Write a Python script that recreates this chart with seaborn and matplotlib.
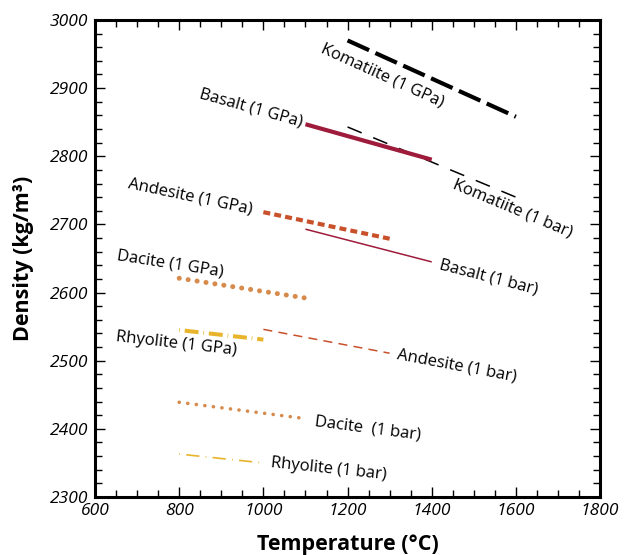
import numpy as np
import pandas as pd
import matplotlib
matplotlib.use("Agg")
import matplotlib.pyplot as plt
import seaborn as sns

# --- data (end points of each straight line) ---
names = ["Komatiite (1 GPa)", "Komatiite (1 bar)", "Basalt (1 GPa)", "Basalt (1 bar)",
         "Andesite (1 GPa)", "Andesite (1 bar)", "Dacite (1 GPa)", "Dacite  (1 bar)",
         "Rhyolite (1 GPa)", "Rhyolite (1 bar)"]
t_start = [1200, 1200, 1100, 1100, 1000, 1000, 800, 800, 800, 800]
t_end = [1600, 1600, 1400, 1400, 1300, 1300, 1100, 1100, 1000, 1000]
rho_start = [2970, 2843, 2847, 2693, 2718, 2546, 2621, 2439, 2545, 2363]
rho_end = [2858, 2740, 2795, 2645, 2679, 2511, 2592, 2415, 2531, 2350]

# label anchor points (data coords)
label_t = [1282, 1593, 971, 1534, 826, 1460, 778, 1249, 792, 1156]
label_rho = [2918, 2723, 2871, 2623, 2740, 2492, 2642, 2401, 2525, 2341]

colors = ["black", "black", "#9e1b3b", "#9e1b3b", "#c8502a", "#c8502a",
          "#d68a4c", "#d68a4c", "#e8b42c", "#e8b42c"]
widths = [3.0, 1.1, 3.0, 1.1, 3.0, 1.1, 3.6, 2.6, 2.9, 1.2]
dashes = [(17, 5), (11, 9), None, None, (5, 3), (6.5, 4.5), (0.05, 6.45), (0.05, 6.15),
          (0.5, 3.5, 10, 3.5), (0.6, 4.5, 9.5, 4.5)]
caps = ["butt", "butt", "butt", "butt", "butt", "butt", "round", "round", "butt", "butt"]

rows = []
for n, t0, t1, r0, r1 in zip(names, t_start, t_end, rho_start, rho_end):
    rows.append({"rock": n, "T": t0, "rho": r0})
    rows.append({"rock": n, "T": t1, "rho": r1})
df = pd.DataFrame(rows)

sns.set_theme(style="ticks")
plt.rcParams["font.family"] = ["Open Sans", "DejaVu Sans"]
plt.rcParams["lines.scale_dashes"] = False
plt.rcParams["text.color"] = "black"
plt.rcParams["axes.labelcolor"] = "black"
plt.rcParams["xtick.color"] = "black"
plt.rcParams["ytick.color"] = "black"

fig = plt.figure(figsize=(6.31, 5.55), dpi=100)
ax = fig.add_axes([0.1506, 0.1045, 0.8004, 0.8595])

for i, n in enumerate(names):
    sub = df[df["rock"] == n]
    sns.lineplot(data=sub, x="T", y="rho", ax=ax, color=colors[i], linewidth=widths[i],
                 sort=False, estimator=None)
    ln = ax.lines[-1]
    if dashes[i] is not None:
        ln.set_dashes(dashes[i])
    ln.set_dash_capstyle(caps[i])
    ln.set_solid_capstyle("butt")

ax.set_xlim(600, 1800)
ax.set_ylim(2300, 3000)

# labels, rotated along their line
for i, n in enumerate(names):
    ang = np.degrees(np.arctan2(rho_end[i] - rho_start[i], t_end[i] - t_start[i]))
    ax.text(label_t[i], label_rho[i], n, fontsize=12, ha="center", va="center",
            rotation=ang, rotation_mode="anchor", transform_rotates_text=True,
            color="black")

ax.set_xticks(np.arange(600, 1801, 200))
ax.set_yticks(np.arange(2300, 3001, 100))
ax.set_xticks(np.arange(600, 1801, 50), minor=True)
ax.set_yticks(np.arange(2300, 3001, 20), minor=True)
ax.tick_params(which="both", direction="in", top=True, right=True, width=1, color="black",
               labelcolor="black")
ax.tick_params(which="major", length=7, labelsize=12.5)
ax.tick_params(which="minor", length=5)
ax.tick_params(axis="x", which="major", pad=4)
ax.tick_params(axis="y", which="major", pad=5)
for lab in ax.get_xticklabels() + ax.get_yticklabels():
    lab.set_fontstyle("italic")
for sp in ax.spines.values():
    sp.set_linewidth(2.2)
    sp.set_color("black")

ax.set_xlabel("Temperature (°C)", fontsize=15.5, fontweight="bold", labelpad=11)
ax.set_ylabel("Density (kg/m³)", fontsize=15.5, fontweight="bold", labelpad=11)

fig.savefig("out.png", dpi=100)
